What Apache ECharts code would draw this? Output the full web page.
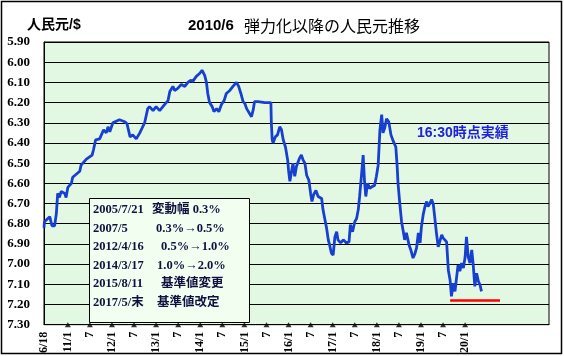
<!DOCTYPE html>
<html><head><meta charset="utf-8">
<script src="https://cdn.jsdelivr.net/npm/echarts@6/dist/echarts.min.js"></script>
<style>html,body{margin:0;padding:0;background:#fff}#c{width:564px;height:356px}</style>
</head><body><div id="c"></div>
<script>
// ---- data (x = fractional year) ----
const dates = [2010.46,2010.47,2010.59,2010.64,2010.70,2010.74,2010.77,2010.81,2010.85,2010.93,2010.96,2011.00,2011.08,2011.11,2011.27,2011.30,2011.42,2011.55,2011.58,2011.63,2011.72,2011.81,2011.87,2011.91,2011.95,2012.02,2012.17,2012.29,2012.34,2012.41,2012.47,2012.55,2012.63,2012.74,2012.81,2012.85,2012.93,2013.00,2013.08,2013.19,2013.27,2013.31,2013.38,2013.42,2013.49,2013.57,2013.65,2013.72,2013.78,2013.83,2013.91,2013.99,2014.04,2014.10,2014.14,2014.17,2014.21,2014.27,2014.31,2014.37,2014.42,2014.48,2014.54,2014.59,2014.67,2014.74,2014.82,2014.87,2014.92,2014.97,2015.01,2015.05,2015.08,2015.12,2015.16,2015.20,2015.23,2015.31,2015.46,2015.60,2015.61,2015.63,2015.65,2015.70,2015.75,2015.80,2015.84,2015.88,2015.93,2015.98,2016.00,2016.03,2016.10,2016.14,2016.18,2016.25,2016.29,2016.33,2016.37,2016.41,2016.46,2016.50,2016.53,2016.57,2016.62,2016.67,2016.75,2016.78,2016.82,2016.86,2016.90,2016.93,2016.97,2017.01,2017.05,2017.09,2017.12,2017.18,2017.24,2017.31,2017.37,2017.40,2017.45,2017.50,2017.54,2017.58,2017.61,2017.65,2017.69,2017.72,2017.75,2017.79,2017.84,2017.90,2017.95,2017.99,2018.03,2018.07,2018.11,2018.14,2018.18,2018.22,2018.27,2018.32,2018.37,2018.43,2018.46,2018.48,2018.52,2018.56,2018.60,2018.63,2018.67,2018.73,2018.77,2018.82,2018.86,2018.90,2018.94,2018.98,2019.01,2019.05,2019.09,2019.13,2019.16,2019.20,2019.24,2019.28,2019.32,2019.35,2019.39,2019.43,2019.47,2019.50,2019.58,2019.62,2019.66,2019.69,2019.73,2019.77,2019.81,2019.84,2019.88,2019.92,2019.96,2020.00,2020.03,2020.07,2020.11,2020.15,2020.18,2020.22,2020.26,2020.30,2020.34,2020.37];
const rates = [6.82,6.79,6.765,6.81,6.81,6.75,6.65,6.67,6.64,6.65,6.67,6.62,6.60,6.57,6.54,6.51,6.48,6.46,6.435,6.385,6.38,6.335,6.35,6.32,6.345,6.30,6.285,6.295,6.305,6.37,6.36,6.38,6.35,6.30,6.23,6.22,6.24,6.22,6.24,6.21,6.19,6.145,6.12,6.14,6.13,6.11,6.12,6.10,6.09,6.095,6.07,6.055,6.04,6.065,6.10,6.155,6.20,6.22,6.245,6.23,6.245,6.21,6.19,6.155,6.14,6.12,6.10,6.12,6.155,6.195,6.205,6.23,6.235,6.255,6.27,6.235,6.195,6.195,6.20,6.20,6.30,6.385,6.40,6.37,6.36,6.32,6.335,6.385,6.42,6.485,6.535,6.59,6.50,6.565,6.515,6.475,6.46,6.485,6.50,6.56,6.585,6.65,6.69,6.655,6.635,6.665,6.675,6.73,6.775,6.82,6.88,6.905,6.945,6.955,6.865,6.84,6.88,6.895,6.88,6.895,6.89,6.805,6.84,6.79,6.775,6.73,6.665,6.565,6.46,6.585,6.665,6.60,6.625,6.615,6.61,6.565,6.51,6.335,6.26,6.35,6.325,6.28,6.295,6.36,6.39,6.42,6.515,6.60,6.70,6.79,6.84,6.88,6.845,6.905,6.93,6.97,6.95,6.92,6.845,6.895,6.815,6.755,6.715,6.69,6.715,6.70,6.68,6.705,6.70,6.845,6.915,6.92,6.855,6.87,6.89,7.03,7.08,7.16,7.095,7.135,7.06,7.005,7.035,6.995,7.02,6.965,6.865,6.965,6.995,6.93,6.995,7.11,7.045,7.085,7.105,7.135];
const refDates = [2019.66, 2020.79];
const refValue = 7.18;
const labelDates = [2010.46,2011,2011.5,2012,2012.5,2013,2013.5,2014,2014.5,2015,2015.5,2016,2016.5,2017,2017.5,2018,2018.5,2019,2019.5,2020];
const labelTexts = ['6/18','11/1','7','12/1','7','13/1','7','14/1','7','15/1','7','16/1','7','17/1','7','18/1','7','19/1','7','20/1'];
const tickDates = labelDates.slice(1);
const noteDates = ['2005/7/21','2007/5','2012/4/16','2014/3/17','2015/8/11','2017/5/末'];
const noteTexts = ['変動幅 0.3%','0.3%→0.5%','0.5%→1.0%','1.0%→2.0%','基準値変更','基準値改定'];
const noteIndent = [59, 63, 68, 64, 68, 64];
const yMin = 5.9, yMax = 7.3, yStep = 0.1;

const chart = echarts.init(document.getElementById('c'), null, {renderer: 'canvas'});
const serifFam = "'Liberation Serif', 'Times New Roman', serif";
const serifCJK = "'Liberation Serif', 'Noto Sans CJK JP', serif";
const graphics = [
  {type: 'rect', shape: {x: 1.5, y: 1.5, width: 560, height: 352}, style: {fill: 'none', stroke: '#000', lineWidth: 1.5}, z: 100},
  {type: 'rect', shape: {x: 89.5, y: 198.5, width: 160, height: 124}, style: {fill: '#f2fff0', stroke: '#000', lineWidth: 1}, z: 50},
  {type: 'text', x: 417, y: 133, z: 51, style: {text: '16:30時点実績', fill: '#2020e0', fontSize: 14, fontWeight: 'bold', fontFamily: "'Liberation Sans','Noto Sans CJK JP', sans-serif", verticalAlign: 'middle'}}
];
noteDates.forEach((d, i) => {
  graphics.push({type: 'text', x: 93, y: 210 + i * 18.5, z: 52,
    style: {text: d, fill: '#101040', fontSize: 12.5, fontWeight: 'bold', fontFamily: serifCJK, verticalAlign: 'middle'}});
  graphics.push({type: 'text', x: 93 + noteIndent[i], y: 210 + i * 18.5, z: 52,
    style: {text: noteTexts[i], fill: '#101040', fontSize: 12.5, fontWeight: 'bold', fontFamily: serifCJK, verticalAlign: 'middle'}});
});

chart.setOption({
  animation: false,
  backgroundColor: '#ffffff',
  title: [
    {text: '{a|2010/6}  {b|弾力化以降の人民元推移}', left: 188, top: 15, padding: 0,
     textStyle: {rich: {
       a: {fontFamily: "'Liberation Sans', sans-serif", fontWeight: 'bold', fontSize: 15, color: '#000', lineHeight: 22},
       b: {fontFamily: "'Noto Sans CJK JP', sans-serif", fontWeight: 'normal', fontSize: 16, color: '#000', lineHeight: 22}}}},
    {text: '人民元/$', left: 27, top: 18, padding: 0,
     textStyle: {fontFamily: "'Liberation Sans','Noto Sans CJK JP', sans-serif", fontWeight: 'bold', fontSize: 14, color: '#000'}}
  ],
  grid: {left: 44, right: 15, top: 42, bottom: 31, show: true, borderColor: '#000', borderWidth: 1, backgroundColor: '#e3f8e3'},
  xAxis: {
    type: 'value', min: 2010.46, max: 2021.9,
    axisLine: {show: true, lineStyle: {color: '#000', width: 1}},
    axisTick: {show: false},
    splitLine: {show: false},
    axisLabel: {
      customValues: labelDates, rotate: 90, margin: 7,
      fontFamily: serifFam, fontWeight: 'bold', fontSize: 12, color: '#000',
      formatter: function (v) {
        const i = labelDates.findIndex(d => Math.abs(d - v) < 1e-6);
        return i >= 0 ? labelTexts[i] : '';
      }
    }
  },
  yAxis: {
    type: 'value', inverse: true, min: yMin, max: yMax, interval: yStep,
    axisLine: {show: true, lineStyle: {color: '#000'}},
    axisTick: {show: false},
    splitLine: {show: true, lineStyle: {color: '#000', width: 1}},
    axisLabel: {margin: 14, fontFamily: serifFam, fontWeight: 'bold', fontSize: 13, color: '#000',
      formatter: v => v.toFixed(2)}
  },
  series: [
    {type: 'line', data: dates.map((d, i) => [d, rates[i]]), showSymbol: false, symbol: 'none',
     lineStyle: {color: '#1840d0', width: 2.8}, z: 3},
    {type: 'line', data: refDates.map(d => [d, refValue]), showSymbol: false, symbol: 'none',
     lineStyle: {color: '#ff0000', width: 2.5}, z: 3},
    {type: 'scatter', data: tickDates.map(d => [d, yMax]), symbol: 'triangle', symbolSize: [6, 5],
     itemStyle: {color: '#000'}, clip: false, z: 5, silent: true}
  ],
  graphic: graphics
});
</script></body></html>
